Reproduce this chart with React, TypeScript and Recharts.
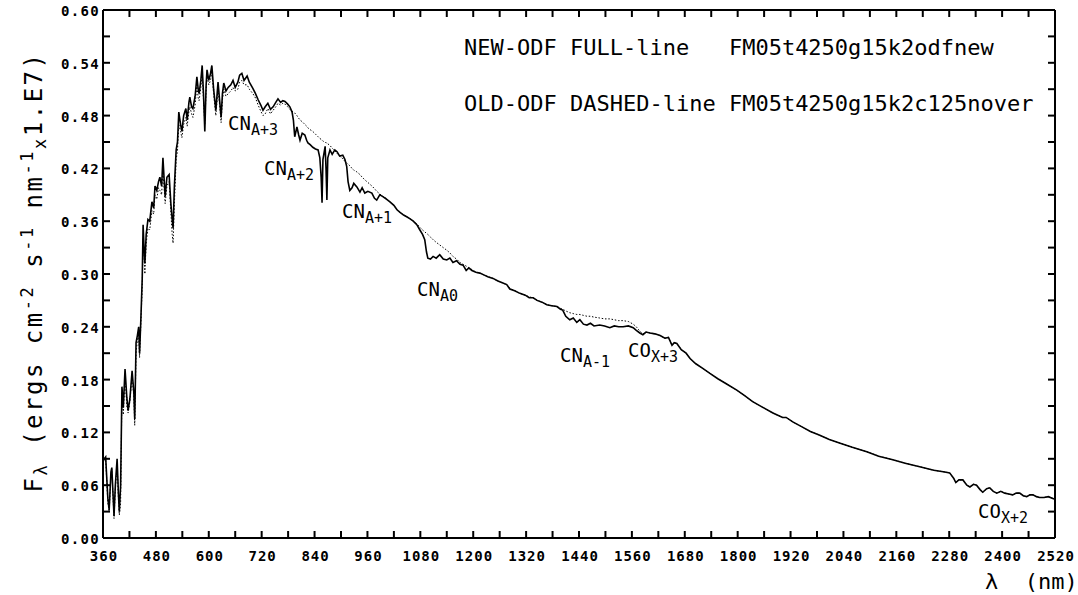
import React from 'react';
import { LineChart, Line, XAxis, YAxis } from 'recharts';

// Wavelength grid (nm)
const wavelengths = [
  360, 366, 371, 374, 378, 380, 385, 388, 392, 395,
  397, 400, 403, 406, 410, 414, 417, 421, 426, 430,
  432, 435, 438, 441, 443, 446, 449, 451, 453, 455,
  458, 462, 466, 471, 475, 478, 482, 486, 489, 493,
  496, 499, 501, 505, 510, 514, 517, 519, 522, 526,
  529, 532, 536, 539, 543, 548, 551, 555, 557, 561,
  564, 569, 573, 576, 578, 582, 585, 588, 591, 594,
  596, 600, 604, 607, 611, 616, 619, 621, 625, 628,
  631, 634, 639, 644, 650, 655, 660, 666, 670, 675,
  680, 687, 692, 700, 706, 712, 718, 723, 728, 734,
  740, 746, 752, 757, 763, 768, 773, 779, 784, 789,
  792, 795, 800, 804, 807, 812, 818, 822, 825, 830,
  836, 842, 848, 852, 855, 857, 859, 864, 866, 868,
  870, 875, 880, 886, 891, 897, 904, 909, 913, 916,
  920, 925, 929, 936, 943, 948, 954, 961, 970, 976,
  981, 988, 995, 1003, 1011, 1020, 1027, 1034, 1042, 1049,
  1056, 1064, 1072, 1079, 1085, 1090, 1094, 1097, 1103, 1109,
  1116, 1124, 1132, 1140, 1147, 1154, 1162, 1170, 1177, 1184,
  1190, 1197, 1206, 1215, 1224, 1233, 1245, 1256, 1266, 1276,
  1283, 1294, 1306, 1318, 1327, 1336, 1345, 1356, 1367, 1378,
  1390, 1398, 1403, 1410, 1419, 1427, 1435, 1442, 1450, 1458,
  1466, 1474, 1487, 1498, 1510, 1520, 1530, 1540, 1552, 1563,
  1570, 1578, 1585, 1592, 1601, 1612, 1624, 1635, 1643, 1651,
  1656, 1662, 1672, 1683, 1692, 1705, 1720, 1737, 1755, 1775,
  1798, 1815, 1834, 1855, 1880, 1902, 1910, 1925, 1947, 1965,
  1985, 2008, 2031, 2060, 2093, 2120, 2152, 2180, 2213, 2245,
  2270, 2281, 2290, 2295, 2302, 2311, 2320, 2327, 2335, 2342,
  2350, 2356, 2365, 2372, 2380, 2388, 2397, 2406, 2415, 2424,
  2432, 2440, 2448, 2456, 2463, 2470, 2478, 2485, 2495, 2505,
  2515, 2520,
];

// NEW-ODF (full line) flux
const newOdf = [
  0.088, 0.092, 0.045, 0.032, 0.075, 0.080, 0.025, 0.060, 0.090, 0.050,
  0.030, 0.060, 0.172, 0.148, 0.192, 0.160, 0.145, 0.158, 0.190, 0.165,
  0.135, 0.222, 0.230, 0.240, 0.210, 0.250, 0.295, 0.356, 0.330, 0.312,
  0.345, 0.362, 0.360, 0.382, 0.375, 0.400, 0.395, 0.405, 0.410, 0.400,
  0.432, 0.405, 0.388, 0.410, 0.413, 0.380, 0.362, 0.352, 0.400, 0.441,
  0.450, 0.484, 0.470, 0.462, 0.480, 0.488, 0.475, 0.495, 0.501, 0.490,
  0.488, 0.502, 0.524, 0.510, 0.505, 0.520, 0.537, 0.505, 0.462, 0.515,
  0.532, 0.520, 0.528, 0.537, 0.510, 0.486, 0.505, 0.518, 0.495, 0.478,
  0.505, 0.517, 0.508, 0.512, 0.515, 0.520, 0.512, 0.518, 0.526, 0.528,
  0.520, 0.525, 0.518, 0.511, 0.505, 0.498, 0.492, 0.486, 0.490, 0.494,
  0.487, 0.490, 0.495, 0.499, 0.495, 0.497, 0.496, 0.493, 0.490, 0.484,
  0.475, 0.456, 0.467, 0.458, 0.452, 0.460, 0.458, 0.452, 0.449, 0.447,
  0.444, 0.442, 0.441, 0.432, 0.410, 0.381, 0.430, 0.445, 0.420, 0.384,
  0.432, 0.441, 0.436, 0.441, 0.439, 0.434, 0.435, 0.430, 0.422, 0.405,
  0.395, 0.398, 0.403, 0.399, 0.393, 0.398, 0.392, 0.394, 0.392, 0.386,
  0.384, 0.390, 0.388, 0.385, 0.382, 0.378, 0.373, 0.370, 0.367, 0.365,
  0.363, 0.360, 0.356, 0.350, 0.345, 0.339, 0.325, 0.318, 0.317, 0.320,
  0.318, 0.322, 0.317, 0.316, 0.318, 0.313, 0.315, 0.311, 0.310, 0.304,
  0.307, 0.304, 0.302, 0.301, 0.299, 0.297, 0.295, 0.292, 0.290, 0.288,
  0.283, 0.281, 0.278, 0.276, 0.273, 0.273, 0.270, 0.268, 0.265, 0.264,
  0.263, 0.260, 0.259, 0.252, 0.248, 0.250, 0.245, 0.248, 0.243, 0.242,
  0.244, 0.241, 0.242, 0.241, 0.239, 0.241, 0.240, 0.240, 0.241, 0.239,
  0.236, 0.233, 0.231, 0.234, 0.233, 0.232, 0.230, 0.227, 0.228, 0.219,
  0.222, 0.221, 0.214, 0.210, 0.204, 0.198, 0.193, 0.187, 0.181, 0.175,
  0.168, 0.162, 0.155, 0.149, 0.142, 0.137, 0.137, 0.132, 0.126, 0.121,
  0.117, 0.112, 0.108, 0.103, 0.098, 0.093, 0.089, 0.085, 0.081, 0.077,
  0.075, 0.074, 0.068, 0.063, 0.066, 0.066, 0.060, 0.058, 0.061, 0.060,
  0.055, 0.052, 0.056, 0.057, 0.053, 0.051, 0.053, 0.051, 0.050, 0.049,
  0.051, 0.051, 0.048, 0.047, 0.049, 0.049, 0.047, 0.046, 0.046, 0.047,
  0.045, 0.044,
];

// OLD-ODF (dashed line) flux
const oldOdf = [
  0.085, 0.090, 0.040, 0.030, 0.070, 0.078, 0.022, 0.055, 0.085, 0.045,
  0.026, 0.040, 0.165, 0.140, 0.185, 0.150, 0.142, 0.155, 0.185, 0.160,
  0.128, 0.210, 0.225, 0.232, 0.205, 0.245, 0.285, 0.340, 0.320, 0.300,
  0.335, 0.352, 0.350, 0.372, 0.368, 0.390, 0.385, 0.398, 0.395, 0.390,
  0.420, 0.395, 0.380, 0.400, 0.405, 0.370, 0.345, 0.335, 0.380, 0.430,
  0.440, 0.470, 0.462, 0.455, 0.470, 0.478, 0.468, 0.485, 0.490, 0.482,
  0.478, 0.492, 0.515, 0.500, 0.497, 0.512, 0.530, 0.498, 0.470, 0.510,
  0.525, 0.515, 0.520, 0.530, 0.505, 0.480, 0.498, 0.510, 0.490, 0.472,
  0.498, 0.510, 0.502, 0.505, 0.508, 0.512, 0.508, 0.510, 0.518, 0.520,
  0.515, 0.515, 0.510, 0.505, 0.500, 0.492, 0.485, 0.480, 0.482, 0.488,
  0.482, 0.486, 0.490, 0.494, 0.492, 0.494, 0.493, 0.490, 0.487, 0.485,
  0.484, 0.483, 0.480, 0.477, 0.475, 0.473, 0.470, 0.468, 0.466, 0.464,
  0.462, 0.459, 0.456, 0.454, 0.453, 0.452, 0.451, 0.450, 0.449, 0.449,
  0.448, 0.446, 0.443, 0.440, 0.437, 0.434, 0.431, 0.428, 0.426, 0.425,
  0.423, 0.420, 0.418, 0.416, 0.413, 0.410, 0.407, 0.404, 0.400, 0.397,
  0.394, 0.391, 0.388, 0.386, 0.382, 0.378, 0.373, 0.370, 0.367, 0.365,
  0.363, 0.360, 0.357, 0.353, 0.350, 0.348, 0.346, 0.345, 0.342, 0.339,
  0.336, 0.333, 0.330, 0.327, 0.324, 0.320, 0.317, 0.313, 0.311, 0.309,
  0.307, 0.305, 0.302, 0.301, 0.299, 0.297, 0.295, 0.292, 0.290, 0.288,
  0.284, 0.281, 0.278, 0.276, 0.274, 0.273, 0.270, 0.268, 0.265, 0.264,
  0.263, 0.261, 0.260, 0.258, 0.256, 0.255, 0.254, 0.254, 0.253, 0.252,
  0.252, 0.251, 0.250, 0.249, 0.249, 0.248, 0.247, 0.247, 0.246, 0.243,
  0.240, 0.235, 0.232, 0.234, 0.233, 0.232, 0.230, 0.227, 0.228, 0.219,
  0.222, 0.221, 0.214, 0.210, 0.204, 0.198, 0.193, 0.187, 0.181, 0.175,
  0.168, 0.162, 0.155, 0.149, 0.142, 0.137, 0.137, 0.132, 0.126, 0.121,
  0.117, 0.112, 0.108, 0.103, 0.098, 0.093, 0.089, 0.085, 0.081, 0.077,
  0.075, 0.074, 0.068, 0.063, 0.066, 0.066, 0.060, 0.058, 0.061, 0.060,
  0.055, 0.052, 0.056, 0.057, 0.053, 0.051, 0.053, 0.051, 0.050, 0.049,
  0.051, 0.051, 0.048, 0.047, 0.049, 0.049, 0.047, 0.046, 0.046, 0.047,
  0.045, 0.044,
];

const xTicks = [
  360, 420, 480, 540, 600, 660, 720, 780, 840, 900, 960, 1020, 1080, 1140,
  1200, 1260, 1320, 1380, 1440, 1500, 1560, 1620, 1680, 1740, 1800, 1860,
  1920, 1980, 2040, 2100, 2160, 2220, 2280, 2340, 2400, 2460, 2520,
];
const yTicks = [
  0, 0.03, 0.06, 0.09, 0.12, 0.15, 0.18, 0.21, 0.24, 0.27, 0.3,
  0.33, 0.36, 0.39, 0.42, 0.45, 0.48, 0.51, 0.54, 0.57, 0.6,
];

const data = wavelengths.map((nm, i) => ({ nm, newOdf: newOdf[i], oldOdf: oldOdf[i] }));

const MONO = '"DejaVu Sans Mono", "Liberation Mono", monospace';
const TICK_LEN = 7;

const BottomTick = (props: any) => {
  const { x, y, payload, index } = props;
  return (
    <g>
      <line x1={x} x2={x} y1={y} y2={y - TICK_LEN} stroke="#000" strokeWidth={2} />
      {index % 2 === 0 && (
        <text x={x + 1} y={y + 23} textAnchor="middle" fontFamily={MONO} fontWeight="bold" fontSize={14} letterSpacing={1} fill="#000">
          {payload.value}
        </text>
      )}
    </g>
  );
};

const TopTick = (props: any) => {
  const { x, y } = props;
  return <line x1={x} x2={x} y1={y} y2={y + TICK_LEN} stroke="#000" strokeWidth={2} />;
};

const LeftTick = (props: any) => {
  const { x, y, payload, index } = props;
  return (
    <g>
      <line x1={x} x2={x + TICK_LEN} y1={y} y2={y} stroke="#000" strokeWidth={2} />
      {index % 2 === 0 && (
        <text x={x - 3} y={y + 6} textAnchor="end" fontFamily={MONO} fontWeight="bold" fontSize={14} letterSpacing={1.3} fill="#000">
          {Number(payload.value).toFixed(2)}
        </text>
      )}
    </g>
  );
};

const RightTick = (props: any) => {
  const { x, y } = props;
  return <line x1={x} x2={x - TICK_LEN} y1={y} y2={y} stroke="#000" strokeWidth={2} />;
};

const Band = ({ x, y, main, sub }: { x: number; y: number; main: string; sub: string }) => (
  <text x={x} y={y} fontFamily={MONO} fontSize={19} fill="#000">
    {main}
    <tspan fontSize={15} dy={5}>{sub}</tspan>
  </text>
);

export default function App() {
  return (
    <div style={{ position: 'absolute', left: 0, top: 0, width: 1078, height: 595, background: '#fff' }}>
      <LineChart width={1078} height={595} data={data} margin={{ top: 9, right: 22, bottom: 56, left: 102 }}>
        <XAxis xAxisId="b" dataKey="nm" type="number" domain={[360, 2520]} ticks={xTicks} interval={0}
          height={1} tickSize={0} tickMargin={0} tickLine={false} tick={<BottomTick />}
          axisLine={{ stroke: '#000', strokeWidth: 2 }} allowDataOverflow />
        <XAxis xAxisId="t" orientation="top" dataKey="nm" type="number" domain={[360, 2520]} ticks={xTicks} interval={0}
          height={1} tickSize={0} tickMargin={0} tickLine={false} tick={<TopTick />}
          axisLine={{ stroke: '#000', strokeWidth: 2 }} allowDataOverflow />
        <YAxis yAxisId="l" type="number" domain={[0, 0.6]} ticks={yTicks} interval={0}
          width={1} tickSize={0} tickMargin={0} tickLine={false} tick={<LeftTick />}
          axisLine={{ stroke: '#000', strokeWidth: 2 }} allowDataOverflow />
        <YAxis yAxisId="r" orientation="right" type="number" domain={[0, 0.6]} ticks={yTicks} interval={0}
          width={1} tickSize={0} tickMargin={0} tickLine={false} tick={<RightTick />}
          axisLine={{ stroke: '#000', strokeWidth: 2 }} allowDataOverflow />
        <Line xAxisId="b" yAxisId="l" type="linear" dataKey="oldOdf" stroke="#000" strokeWidth={1}
          strokeDasharray="1.5 1.8" dot={false} isAnimationActive={false} />
        <Line xAxisId="b" yAxisId="l" type="linear" dataKey="newOdf" stroke="#000" strokeWidth={1.6}
          dot={false} isAnimationActive={false} />
      </LineChart>
      <svg width={1078} height={595} style={{ position: 'absolute', left: 0, top: 0, pointerEvents: 'none' }}>
        <text x={464} y={55} fontFamily={MONO} fontSize={22} fill="#000" style={{ whiteSpace: 'pre' }}>
          {'NEW-ODF FULL-line   FM05t4250g15k2odfnew'}
        </text>
        <text x={464} y={111} fontFamily={MONO} fontSize={22} fill="#000" style={{ whiteSpace: 'pre' }}>
          {'OLD-ODF DASHED-line FM05t4250g15k2c125nover'}
        </text>
        <Band x={228} y={130} main="CN" sub="A+3" />
        <Band x={264} y={175} main="CN" sub="A+2" />
        <Band x={342} y={218} main="CN" sub="A+1" />
        <Band x={417} y={296} main="CN" sub="A0" />
        <Band x={560} y={362} main="CN" sub="A-1" />
        <Band x={628} y={357} main="CO" sub="X+3" />
        <Band x={978} y={518} main="CO" sub="X+2" />
        <text x={985} y={589} fontFamily={MONO} fontSize={22} fill="#000" style={{ whiteSpace: 'pre' }}>
          {'λ  (nm)'}
        </text>
        <text x={42} y={272} transform="rotate(-90 42 272)" textAnchor="middle" fontFamily={MONO} fontSize={24}
          letterSpacing={2.5} fill="#000" style={{ whiteSpace: 'pre' }}>
          <tspan>F</tspan>
          <tspan fontSize={17} dy={5}>λ</tspan>
          <tspan dy={-5}>{' (ergs cm'}</tspan>
          <tspan fontSize={17} dy={-9}>-2</tspan>
          <tspan dy={9}>{' s'}</tspan>
          <tspan fontSize={17} dy={-9}>-1</tspan>
          <tspan dy={9}>{' nm'}</tspan>
          <tspan fontSize={17} dy={-9}>-1</tspan>
          <tspan fontSize={17} dy={13}>x</tspan>
          <tspan dy={-4}>1.E7)</tspan>
        </text>
      </svg>
    </div>
  );
}
